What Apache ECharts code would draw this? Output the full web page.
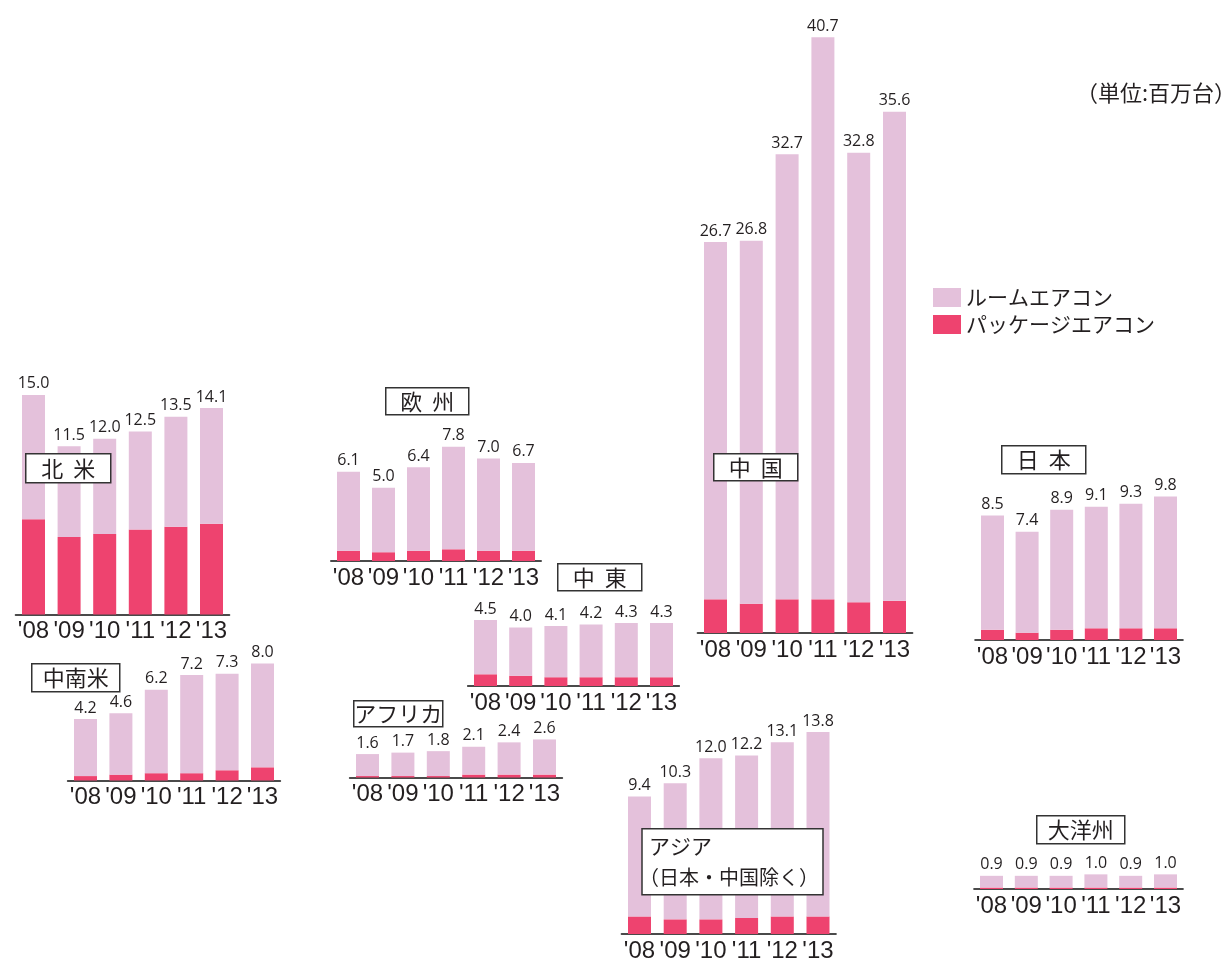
<!DOCTYPE html>
<html>
<head>
<meta charset="utf-8">
<script src="https://cdn.jsdelivr.net/npm/echarts@6/dist/echarts.min.js"></script>
<style>
  html, body { margin: 0; padding: 0; background: #fff; }
  #chart { width: 1226px; height: 963px; }
</style>
</head>
<body>
<div id="chart"></div>
<script>
// 年
const years = ["'08", "'09", "'10", "'11", "'12", "'13"];

// 合計(百万台) / パッケージエアコン(百万台、図から読み取り)
const naTotal = [15.0, 11.5, 12.0, 12.5, 13.5, 14.1];   // 北米
const naPkg = [6.5, 5.3, 5.5, 5.8, 6.0, 6.2];
const laTotal = [4.2, 4.6, 6.2, 7.2, 7.3, 8.0];         // 中南米
const laPkg = [0.3, 0.4, 0.5, 0.5, 0.7, 0.9];
const euTotal = [6.1, 5.0, 6.4, 7.8, 7.0, 6.7];         // 欧州
const euPkg = [0.7, 0.6, 0.7, 0.8, 0.7, 0.7];
const meTotal = [4.5, 4.0, 4.1, 4.2, 4.3, 4.3];         // 中東
const mePkg = [0.8, 0.7, 0.6, 0.6, 0.6, 0.6];
const afTotal = [1.6, 1.7, 1.8, 2.1, 2.4, 2.6];         // アフリカ
const afPkg = [0.1, 0.1, 0.1, 0.2, 0.2, 0.2];
const asTotal = [9.4, 10.3, 12.0, 12.2, 13.1, 13.8];    // アジア
const asPkg = [1.2, 1.0, 1.0, 1.1, 1.2, 1.2];
const cnTotal = [26.7, 26.8, 32.7, 40.7, 32.8, 35.6];   // 中国
const cnPkg = [2.3, 2.0, 2.3, 2.3, 2.1, 2.2];
const jpTotal = [8.5, 7.4, 8.9, 9.1, 9.3, 9.8];         // 日本
const jpPkg = [0.7, 0.5, 0.7, 0.8, 0.8, 0.8];
const ocTotal = [0.9, 0.9, 0.9, 1.0, 0.9, 1.0];         // 大洋州
const ocPkg = [0.1, 0.1, 0.1, 0.1, 0.1, 0.1];

const ROOM = 'ルームエアコン';
const PKG = 'パッケージエアコン';
const ROOM_COLOR = '#E4C1DB';
const PKG_COLOR = '#EE436F';
const TEXT = '#231f20';
const PX_PER_UNIT = 14.64; // 全地域共通のスケール

// base: 軸のy座標, c0: 最初の棒の中心x, step: 棒の間隔
const panels = [
  { total: naTotal, pkg: naPkg, base: 614.5, c0: 33.5, step: 35.6 },
  { total: laTotal, pkg: laPkg, base: 780.5, c0: 85.5, step: 35.4 },
  { total: euTotal, pkg: euPkg, base: 561, c0: 348.5, step: 35.0 },
  { total: meTotal, pkg: mePkg, base: 686, c0: 485.5, step: 35.2 },
  { total: afTotal, pkg: afPkg, base: 777.5, c0: 367.5, step: 35.4 },
  { total: asTotal, pkg: asPkg, base: 934, c0: 639.5, step: 35.7 },
  { total: cnTotal, pkg: cnPkg, base: 633, c0: 715.5, step: 35.8 },
  { total: jpTotal, pkg: jpPkg, base: 640, c0: 992.5, step: 34.6 },
  { total: ocTotal, pkg: ocPkg, base: 889, c0: 991.5, step: 34.8 }
];

// 地域名の枠 (lines: [テキスト, x, y, size])
const boxes = [
  { lines: [['北  米']], x: 25, y: 453, w: 85, h: 29 },
  { lines: [['中南米']], x: 31, y: 663, w: 88, h: 28 },
  { lines: [['欧  州']], x: 385, y: 387, w: 83, h: 27 },
  { lines: [['中  東']], x: 557, y: 563, w: 84, h: 27 },
  { lines: [['アフリカ']], x: 353, y: 700, w: 89, h: 26 },
  { lines: [['アジア', 7, 17, 21], ['（日本・中国除く）', -3, 49, 20]], x: 639, y: 828, w: 181, h: 66 },
  { lines: [['中  国']], x: 713, y: 453, w: 84, h: 27 },
  { lines: [['日  本']], x: 1001, y: 445, w: 84, h: 28 },
  { lines: [['大洋州']], x: 1036, y: 815, w: 88, h: 28 }
];

const grid = [], xAxis = [], yAxis = [], series = [];
panels.forEach((p, i) => {
  const max = Math.ceil(Math.max(...p.total));
  const h = max * PX_PER_UNIT;
  grid.push({ left: p.c0 - p.step / 2, top: p.base - h, width: p.step * 6, height: h });
  xAxis.push({
    type: 'category', gridIndex: i, data: years,
    axisLine: { lineStyle: { color: '#4a4a4a', width: 2 } },
    axisTick: { show: false },
    axisLabel: { interval: 0, fontFamily: 'Liberation Sans', fontSize: 24, color: TEXT, margin: 5 }
  });
  yAxis.push({ type: 'value', gridIndex: i, min: 0, max: max, show: false });
  series.push({
    type: 'bar', name: PKG, xAxisIndex: i, yAxisIndex: i, stack: 's' + i,
    barWidth: 23, data: p.pkg, itemStyle: { color: PKG_COLOR }
  });
  series.push({
    type: 'bar', name: ROOM, xAxisIndex: i, yAxisIndex: i, stack: 's' + i,
    barWidth: 23,
    data: p.total.map((t, j) => +(t - p.pkg[j]).toFixed(2)),
    itemStyle: { color: ROOM_COLOR },
    label: {
      show: true, position: 'top', distance: 3,
      fontFamily: 'Open Sans', fontSize: 16, color: TEXT,
      formatter: (prm) => p.total[prm.dataIndex].toFixed(1)
    }
  });
});

const graphic = boxes.map(b => ({
  type: 'group', left: b.x, top: b.y, z: 100,
  children: [
    { type: 'rect', z: 100, shape: { x: 0, y: 0, width: b.w, height: b.h },
      style: { fill: '#fff', stroke: '#333', lineWidth: 1.5 } }
  ].concat(b.lines.map(l => {
    const single = l.length === 1;
    return {
      type: 'text', z: 101,
      x: single ? b.w / 2 : l[1], y: single ? b.h / 2 : l[2],
      style: {
        text: l[0], fill: TEXT,
        font: (single ? 22 : l[3]) + 'px "Noto Sans CJK JP"',
        align: single ? 'center' : 'left', verticalAlign: 'middle'
      }
    };
  }))
}));
graphic.push({
  type: 'text', left: 1076, top: 82, z: 100,
  style: { text: '（単位:百万台）', fill: TEXT, font: '22px "Noto Sans CJK JP"' }
});

const chart = echarts.init(document.getElementById('chart'));
chart.setOption({
  backgroundColor: '#fff',
  animation: false,
  legend: {
    data: [ROOM, PKG],
    orient: 'vertical', left: 928, top: 282,
    itemWidth: 28, itemHeight: 19, itemGap: 6,
    icon: 'rect',
    textStyle: { fontFamily: 'Noto Sans CJK JP', fontSize: 21, color: TEXT }
  },
  grid: grid,
  xAxis: xAxis,
  yAxis: yAxis,
  series: series,
  graphic: graphic
});
</script>
</body>
</html>
